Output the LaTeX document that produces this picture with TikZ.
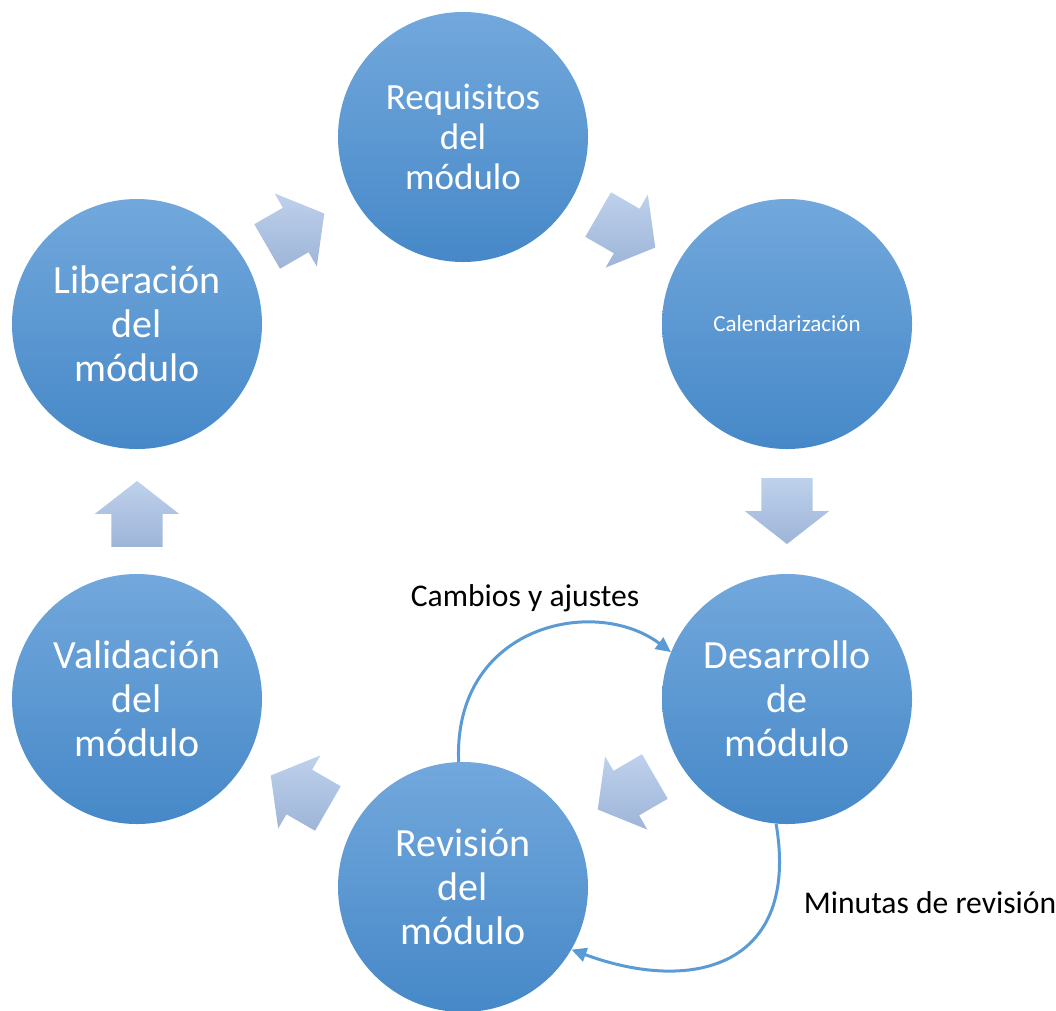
\documentclass[tikz,border=0pt]{standalone}
\usepackage{fontspec}
\setmainfont{Carlito}
\usepackage{tikz}
\usetikzlibrary{shapes.arrows,arrows.meta}
\definecolor{disktop}{RGB}{114, 168, 220}
\definecolor{diskbottom}{RGB}{70, 136, 200}
\definecolor{arrowtop}{RGB}{190, 209, 236}
\definecolor{arrowbottom}{RGB}{158, 181, 216}
\definecolor{loopline}{RGB}{91, 155, 213}

\tikzset{
  stage/.style={circle, minimum size=250, inner sep=0pt, align=center,
    top color=disktop, bottom color=diskbottom, text=white,
    font=\fontsize{40}{44}\selectfont},
  blockarrow/.style={single arrow, inner xsep=0pt, inner ysep=25.5,
    minimum width=84, minimum height=66, single arrow head extend=16.5,
    single arrow tip angle=104, top color=arrowtop, bottom color=arrowbottom},
  note/.style={font=\fontsize{31.6}{36}\selectfont},
  loop/.style={loopline, line width=3pt, -{Triangle[length=15,width=14]}}
}

\begin{document}
\begin{tikzpicture}[x=1pt,y=1pt]
    \useasboundingbox (0,0) rectangle (1056,-1010);

    % stages of the cycle
    \node[stage, font=\fontsize{37}{40}\selectfont] (req) at (463,-137) {Requisitos\\del\\módulo};
    \node[stage, font=\fontsize{23}{28}\selectfont] (cal) at (787,-324) {Calendarización};
    \node[stage] (des) at (787,-699) {Desarrollo\\de\\módulo};
    \node[stage] (rev) at (463,-887) {Revisión\\del\\módulo};
    \node[stage] (val) at (137,-699) {Validación\\del\\módulo};
    \node[stage] (lib) at (137,-324) {Liberación\\del\\módulo};

    % block arrows between stages
    \node[blockarrow, rotate=30] (a1) at (287,-235) {};
    \node[blockarrow, rotate=-30] (a2) at (618,-226) {};
    \node[blockarrow, rotate=-90] (a3) at (787,-501) {};
    \node[blockarrow, rotate=-150] (a4) at (635,-788) {};
    \node[blockarrow, rotate=150] (a5) at (308,-797) {};
    \node[blockarrow, rotate=90] (a6) at (137,-524) {};

    % review loop
    \draw[loop] (rev.92) .. controls (453,-625) and (595,-595) .. (des.158);
    \draw[loop] (des.-95) .. controls (800,-965) and (695,-995) .. (rev.-30);
    \node[note] (chg) at (525,-598) {Cambios y ajustes};
    \node[note] (min) at (930,-903) {Minutas de revisión};
\end{tikzpicture}
\end{document}
